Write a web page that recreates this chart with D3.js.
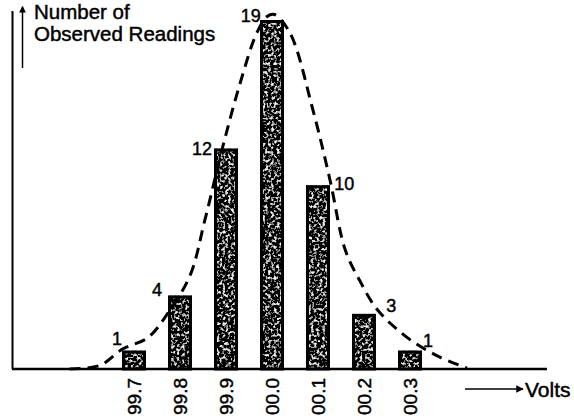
<head>
  <script type="text/javascript" src="https://d3js.org/d3.v7.min.js"></script>
  <style>
    body { margin: 0; background: #fff; }
    text { font-family: "Liberation Sans", Arial, sans-serif; fill: #000; stroke: #000; stroke-width: 0.45; }
  </style>
</head>
<body>
  <svg id="canvas" width="574" height="419" viewBox="0 0 574 419"></svg>
</body>
<script>
  // readings per voltage step, offset from the centre reading 00.0
  const steps = [-3, -2, -1, 0, 1, 2, 3];
  const tickLabels = ["99.7", "99.8", "99.9", "00.0", "00.1", "00.2", "00.3"];
  const counts = [1, 4, 12, 19, 10, 3, 1];

  // dashed curve (step offset, count)
  const curveX = [-4.4, -3.74, -3.24, -2.7, -2.26, -1.78, -1.46, -1.07, -0.7, -0.33, -0.1, 0.05, 0.39, 0.89, 1.26, 1.59, 1.91, 2.3, 3.0, 3.65, 4.24];
  const curveY = [0, 0.2, 1.1, 1.7, 3.05, 5.1, 8.1, 12.1, 15.5, 18.3, 19.2, 19.3, 18.3, 14.1, 10.3, 6.5, 4.8, 3.2, 1.6, 0.65, 0.05];

  let svg = d3.select("svg");

  const baseY = 369;
  const x = d3.scaleLinear().domain([0, 1]).range([272, 318]);
  const y = d3.scaleLinear().domain([0, 19]).range([baseY, 20]);
  const barW = 24;

  // grainy fill for the bars
  const defs = svg.append("defs");
  const f = defs.append("filter").attr("id", "grain")
      .attr("x", 0).attr("y", 0).attr("width", 1).attr("height", 1);
  f.append("feTurbulence").attr("type", "fractalNoise")
      .attr("baseFrequency", 0.35).attr("numOctaves", 2).attr("seed", 4).attr("result", "n");
  f.append("feColorMatrix").attr("in", "n").attr("type", "matrix")
      .attr("values", "0 0 0 0 1  0 0 0 0 1  0 0 0 0 1  4 0 0 0 -2.05").attr("result", "w");
  f.append("feComposite").attr("in", "w").attr("in2", "SourceGraphic").attr("operator", "in").attr("result", "wc");
  const m = f.append("feMerge");
  m.append("feMergeNode").attr("in", "SourceGraphic");
  m.append("feMergeNode").attr("in", "wc");

  const marker = defs.append("marker").attr("id", "arr")
      .attr("viewBox", "0 0 10 10").attr("refX", 8).attr("refY", 5)
      .attr("markerWidth", 5).attr("markerHeight", 4.5).attr("orient", "auto-start-reverse");
  marker.append("path").attr("d", "M0,0 L10,5 L0,10 z").attr("fill", "#000");
  const marker2 = defs.append("marker").attr("id", "arr2")
      .attr("viewBox", "0 0 10 10").attr("refX", 9).attr("refY", 5)
      .attr("markerWidth", 9).attr("markerHeight", 5).attr("orient", "auto");
  marker2.append("path").attr("d", "M0,0 L10,5 L0,10 z").attr("fill", "#000");

  // bars
  svg.selectAll("rect.fill").data(counts).join("rect")
      .attr("class", "fill")
      .attr("x", (d, i) => x(steps[i]) - barW / 2)
      .attr("y", d => y(d))
      .attr("width", barW)
      .attr("height", d => baseY - y(d))
      .attr("fill", "#050505")
      .attr("filter", "url(#grain)");
  svg.selectAll("rect.edge").data(counts).join("rect")
      .attr("class", "edge")
      .attr("x", (d, i) => x(steps[i]) - barW / 2 + 1.5)
      .attr("y", d => y(d) + 1.5)
      .attr("width", barW - 3)
      .attr("height", d => baseY - y(d) - 1.5)
      .attr("fill", "none")
      .attr("stroke", "#000")
      .attr("stroke-width", 3);

  // dashed curve
  const pts = curveX.map((v, i) => [x(v), y(curveY[i])]);
  svg.append("path")
      .attr("d", d3.line().curve(d3.curveCatmullRom)(pts))
      .attr("fill", "none")
      .attr("stroke", "#000")
      .attr("stroke-width", 3)
      .attr("stroke-dasharray", "11,7");

  // axes
  svg.append("line").attr("x1", 12).attr("x2", 547).attr("y1", baseY).attr("y2", baseY)
      .attr("stroke", "#000").attr("stroke-width", 2.5);
  svg.append("line").attr("x1", 12.5).attr("x2", 12.5).attr("y1", 11).attr("y2", baseY)
      .attr("stroke", "#000").attr("stroke-width", 2);
  svg.append("line").attr("x1", 22.5).attr("x2", 22.5).attr("y1", 68).attr("y2", 7)
      .attr("stroke", "#000").attr("stroke-width", 1.5).attr("marker-end", "url(#arr)");
  svg.append("line").attr("x1", 465).attr("x2", 523).attr("y1", 389).attr("y2", 389)
      .attr("stroke", "#000").attr("stroke-width", 1.5).attr("marker-end", "url(#arr2)");

  // tick labels (rotated)
  svg.selectAll("text.tick").data(tickLabels).join("text")
      .attr("class", "tick")
      .attr("transform", (d, i) => `translate(${x(steps[i]) + 7},378) rotate(-90)`)
      .attr("text-anchor", "end")
      .attr("font-size", 19)
      .text(d => d);

  // value labels
  const labelPos = [[-3.37, 345], [-2.5, 296], [-1.52, 155], [-0.46, 22], [1.57, 190], [2.59, 312], [3.39, 347]];
  svg.selectAll("text.val").data(counts).join("text")
      .attr("class", "val")
      .attr("x", (d, i) => x(labelPos[i][0]))
      .attr("y", (d, i) => labelPos[i][1])
      .attr("text-anchor", "middle")
      .attr("font-size", 18)
      .text(d => d);

  svg.append("text").attr("x", 34).attr("y", 19).attr("font-size", 20.5).text("Number of");
  svg.append("text").attr("x", 34).attr("y", 41).attr("font-size", 20.5).text("Observed Readings");
  svg.append("text").attr("x", 525).attr("y", 397).attr("font-size", 21).text("Volts");
</script>
